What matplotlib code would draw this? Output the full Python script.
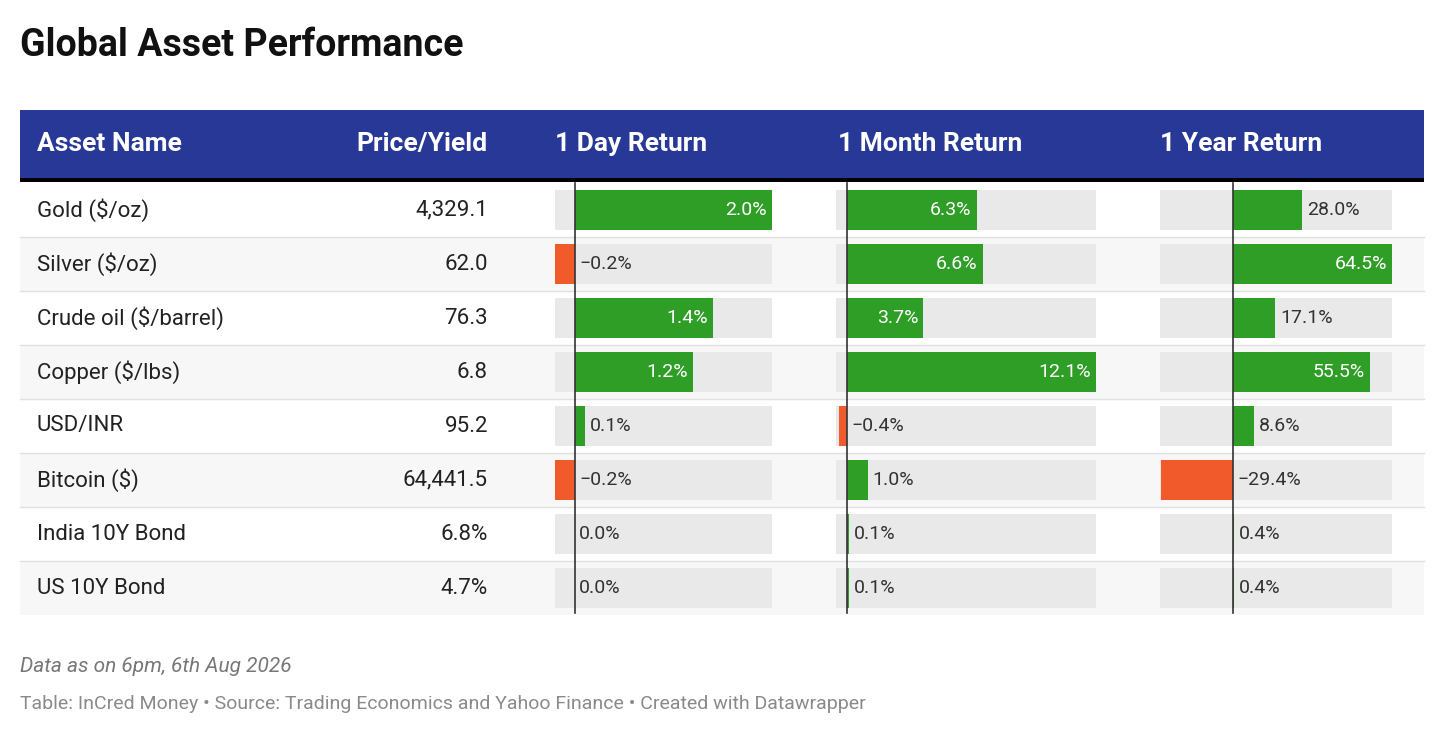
import matplotlib.pyplot as plt
from matplotlib.patches import Rectangle

plt.rcParams['font.family'] = ['Roboto', 'DejaVu Sans']

# --- data ---
assets = ["Gold ($/oz)", "Silver ($/oz)", "Crude oil ($/barrel)", "Copper ($/lbs)",
          "USD/INR", "Bitcoin ($)", "India 10Y Bond", "US 10Y Bond"]
prices = ["4,329.1", "62.0", "76.3", "6.8", "95.2", "64,441.5", "6.8%", "4.7%"]
day_ret = [2.0, -0.2, 1.4, 1.2, 0.1, -0.2, 0.0, 0.0]
month_ret = [6.3, 6.6, 3.7, 12.1, -0.4, 1.0, 0.1, 0.1]
year_ret = [28.0, 64.5, 17.1, 55.5, 8.6, -29.4, 0.4, 0.4]

headers = ["Asset Name", "Price/Yield", "1 Day Return", "1 Month Return", "1 Year Return"]

# column geometry (pixels): bg left, zero x, bg right, domain lo, domain hi
bar_cols = [
    (day_ret, 555, 575, 772),
    (month_ret, 836, 847, 1096),
    (year_ret, 1160, 1233, 1392),
]

GREEN = "#2f9e27"
ORANGE = "#f15a2b"
NAVY = "#283896"
BARBG = "#e9e9e9"

fig = plt.figure(figsize=(14.44, 7.38), dpi=100)
ax = fig.add_axes([0, 0, 1, 1])
ax.set_xlim(0, 1444)
ax.set_ylim(738, 0)
ax.axis("off")

ax.text(20, 46, "Global Asset Performance", fontsize=27, fontweight="bold",
        va="center", ha="left", color="#111111")

# header
ax.add_patch(Rectangle((20, 110), 1404, 68, color=NAVY, lw=0))
ax.add_patch(Rectangle((20, 178), 1404, 4, color="black", lw=0))
hx = [(37, "left"), (488, "right"), (555, "left"), (838, "left"), (1160, "left")]
for (x, ha), h in zip(hx, headers):
    ax.text(x, 144, h, fontsize=19, fontweight="bold", color="white", va="center", ha=ha)

top = 183
rh = 54
for i, name in enumerate(assets):
    y0 = top + i * rh
    yc = y0 + rh / 2
    ax.add_patch(Rectangle((20, y0), 1404, rh, color="white" if i % 2 == 0 else "#f7f7f7", lw=0))
    if i > 0:
        ax.plot([20, 1424], [y0, y0], color="#e0e0e0", lw=1)
    ax.text(37, yc, name, fontsize=16, va="center", ha="left", color="#222222")
    ax.text(488, yc, prices[i], fontsize=16, va="center", ha="right", color="#222222")

    for vals, left, zero, right in bar_cols:
        lo_px = zero - left
        hi_px = right - zero
        vmax = max(vals)
        vmin = min(vals)
        scale = hi_px / vmax
        if vmin < 0:
            scale = min(scale, lo_px / -vmin)
        v = vals[i]
        ax.add_patch(Rectangle((left, y0 + 7), right - left, 40, color=BARBG, lw=0))
        w = v * scale
        ax.add_patch(Rectangle((zero, y0 + 7), w, 40,
                               color=GREEN if v >= 0 else ORANGE, lw=0))
        lab = f"{v:.1f}%".replace("-", "\u2212")
        if v > 0 and w > 72:
            ax.text(zero + w - 5, yc, lab, fontsize=14, color="white", va="center", ha="right")
        elif v > 0:
            ax.text(zero + w + 5, yc, lab, fontsize=14, color="#333333", va="center", ha="left")
        else:
            ax.text(zero + 4, yc, lab, fontsize=14, color="#333333", va="center", ha="left")

bottom = top + len(assets) * rh
for _, left, zero, right in bar_cols:
    ax.plot([zero, zero], [top, bottom - 2], color="#333333", lw=1.2)

ax.text(20, 667, "Data as on 6pm, 6th Aug 2026", fontsize=15, style="italic",
        color="#777777", va="center", ha="left")
ax.text(20, 704, "Table: InCred Money \u2022 Source: Trading Economics and Yahoo Finance \u2022 Created with Datawrapper",
        fontsize=14, color="#8a8a8a", va="center", ha="left")

fig.savefig("out.png", dpi=100)
